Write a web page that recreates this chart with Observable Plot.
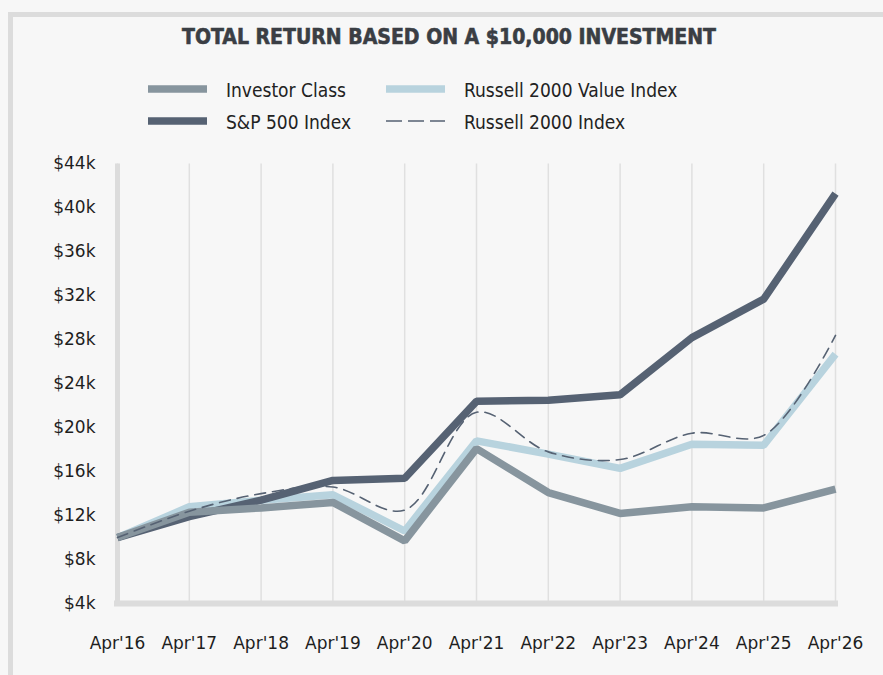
<!DOCTYPE html>
<html><head><meta charset="utf-8">
<script src="https://cdn.jsdelivr.net/npm/d3@7"></script>
<script src="https://cdn.jsdelivr.net/npm/@observablehq/plot@0.6"></script>
<style>
body{margin:0;background:#f7f7f7;}
#wrap{position:relative;width:883px;height:675px;overflow:hidden;background:#f7f7f7;}
#btop{position:absolute;left:8px;top:12px;width:875px;height:5px;background:#dcdcdc;}
#bleft{position:absolute;left:8px;top:12px;width:5px;height:663px;background:#dcdcdc;}
#head{position:absolute;left:0;top:0;}
#chart{position:absolute;left:0;top:150px;}
</style>
</head><body>
<div id="wrap"><div id="btop"></div><div id="bleft"></div><div id="head"></div><div id="chart"></div></div>
<script>
const title = "TOTAL RETURN BASED ON A $10,000 INVESTMENT";
const years = ["Apr'16","Apr'17","Apr'18","Apr'19","Apr'20","Apr'21","Apr'22","Apr'23","Apr'24","Apr'25","Apr'26"];
const seriesNames = ["Investor Class","S&P 500 Index","Russell 2000 Value Index","Russell 2000 Index"];
const investor = [10.0,12.3,12.7,13.2,9.7,18.1,14.1,12.2,12.8,12.7,14.4];
const sp500    = [10.0,11.9,13.4,15.2,15.4,22.4,22.5,23.0,28.2,31.7,41.3];
const r2000v   = [10.0,12.8,13.4,13.9,10.6,18.8,17.6,16.3,18.5,18.4,26.7];
const r2000    = [10.0,12.4,14.0,14.6,12.5,21.4,17.8,17.1,19.5,19.3,28.4];
const yTicks = [4,8,12,16,20,24,28,32,36,40,44];

const colors = {inv:"#87959e", sp:"#566273", rv:"#b8d3de", r:"#566273"};
const rows = (arr) => years.map((y,i)=>({year:y, value:arr[i]}));

const chart = Plot.plot({
  width: 883, height: 525,
  marginLeft: 117, marginRight: 48, marginTop: 13.5, marginBottom: 72,
  style: {fontFamily: "DejaVu Sans", fontSize: "17px", color: "#1e1e1e", background: "transparent"},
  x: {type: "point", domain: years, padding: 0, round: false, label: null},
  y: {domain: [4,44], label: null},
  marks: [
    Plot.ruleX(years, {stroke: "#e0e0e0", strokeWidth: 1.5}),
    Plot.ruleX([years[0]], {stroke: "#dcdcdc", strokeWidth: 5}),
    Plot.ruleY([4], {stroke: "#dcdcdc", strokeWidth: 6, insetLeft: -3, insetRight: -3}),
    Plot.axisY({ticks: yTicks, tickFormat: d => `$${d}k`, tickSize: 0, tickPadding: 22, fontSize: 17, label: null}),
    Plot.axisX({tickSize: 0, tickPadding: 33, fontSize: 17, label: null}),
    Plot.line(rows(r2000v), {x:"year", y:"value", stroke: colors.rv, strokeWidth: 7.5, strokeLinecap:"butt", strokeLinejoin:"miter"}),
    Plot.line(rows(sp500), {x:"year", y:"value", stroke: colors.sp, strokeWidth: 7.5, strokeLinecap:"butt", strokeLinejoin:"miter"}),
    Plot.line(rows(investor), {x:"year", y:"value", stroke: colors.inv, strokeWidth: 7.5, strokeLinecap:"butt", strokeLinejoin:"miter"}),
    Plot.line(rows(r2000), {x:"year", y:"value", stroke: colors.r, strokeWidth: 1.6, strokeDasharray: "11,7", curve: "catmull-rom"})
  ]
});
document.getElementById("chart").appendChild(chart);

// header: title + legend
const head = d3.select("#head").append("svg").attr("width", 883).attr("height", 150);
head.append("text").attr("x", 449).attr("y", 44).attr("text-anchor","middle")
  .attr("font-family","DejaVu Sans Condensed, DejaVu Sans").attr("font-weight","bold").attr("font-size",22)
  .attr("fill","#3a3e44").attr("stroke","#3a3e44").attr("stroke-width",0.6)
  .attr("textLength", 534).attr("lengthAdjust","spacingAndGlyphs").text(title);

const legend = [
  {name: seriesNames[0], color: colors.inv, dash: null, w: 7.5, x: 148, y: 89},
  {name: seriesNames[2], color: colors.rv, dash: null, w: 7.5, x: 386, y: 89},
  {name: seriesNames[1], color: colors.sp, dash: null, w: 7.5, x: 148, y: 121},
  {name: seriesNames[3], color: colors.r, dash: "16,6", w: 1.6, x: 386, y: 121}
];
legend.forEach(l => {
  head.append("line").attr("x1", l.x).attr("x2", l.x + 59).attr("y1", l.y).attr("y2", l.y)
    .attr("stroke", l.color).attr("stroke-width", l.w).attr("stroke-dasharray", l.dash);
  head.append("text").attr("x", l.x + 78).attr("y", l.y + 8)
    .attr("font-family","DejaVu Sans Condensed, DejaVu Sans").attr("font-size",19).attr("fill","#222")
    .text(l.name);
});
</script>
</body></html>
